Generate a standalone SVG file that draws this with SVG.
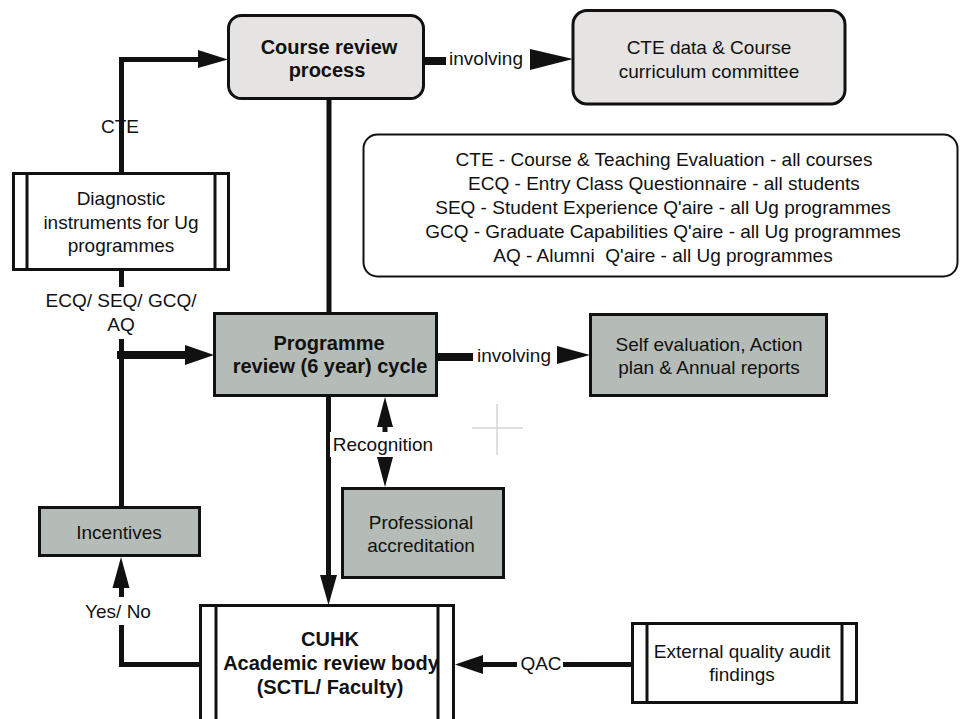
<svg xmlns="http://www.w3.org/2000/svg" width="960" height="719" viewBox="0 0 960 719">
<style>
.box{stroke:#111;stroke-width:3}
.light{fill:#e5e4e2}
.gray{fill:#b5bbb6}
.white{fill:#fff}
.t{font-family:"Liberation Sans",Arial,sans-serif;font-size:19px;fill:#111;text-anchor:middle}
.b{font-weight:bold;font-size:20px}
.ln{stroke:#111;fill:none;stroke-width:5}
.thick{stroke-width:8}
.ah{fill:#111}
.bar{stroke:#111;stroke-width:3}
</style>
<rect width="960" height="719" fill="#fff"/>

<g id="connectors">
  <!-- Diagnostic -> Course review (CTE) -->
  <path class="ln" d="M121.5,173 V113 M121.5,140 V59.5 H200"/>
  <polygon class="ah" points="198,50 228,59.5 198,68"/>
  <text class="t" x="120" y="133">CTE</text>
  <!-- Course review -> CTE data (involving) -->
  <line class="ln thick" x1="424" y1="61" x2="446" y2="61"/>
  <text class="t" x="486" y="65">involving</text>
  <polygon class="ah" points="530,49 573,59 530,70"/>
  <!-- Course review -> Programme -->
  <line class="ln" x1="329" y1="99" x2="329" y2="313"/>
  <!-- Diagnostic -> Programme (ECQ/SEQ/GCQ/AQ) -->
  <line class="ln" x1="121.5" y1="270" x2="121.5" y2="287"/>
  <text class="t" x="121" y="307">ECQ/ SEQ/ GCQ/</text>
  <text class="t" x="121" y="331">AQ</text>
  <line class="ln" x1="121.5" y1="339" x2="121.5" y2="507"/>
  <line class="ln thick" x1="117" y1="355" x2="188" y2="355"/>
  <polygon class="ah" points="185,345 214,355 185,365"/>
  <!-- Programme -> Self evaluation (involving) -->
  <line class="ln thick" x1="437" y1="357" x2="473" y2="357"/>
  <text class="t" x="514" y="362">involving</text>
  <polygon class="ah" points="557,346 590,355 557,364"/>
  <!-- Programme -> CUHK -->
  <line class="ln" x1="328.5" y1="396" x2="328.5" y2="580"/>
  <polygon class="ah" points="320,575 337,575 328.5,605"/>
  <!-- Recognition double arrow -->
  <line class="ln" stroke-width="4" x1="385" y1="420" x2="385" y2="465"/>
  <polygon class="ah" points="385,397 393,427 377,427"/>
  <polygon class="ah" points="377,457 393,457 385,487"/>
  <rect x="330" y="432" width="105" height="25" fill="#fff"/>
  <text class="t" x="383" y="451">Recognition</text>
  <!-- CUHK -> Incentives (Yes/ No) -->
  <path class="ln" d="M200,664.5 H121.5 V625 M121.5,597 V586"/>
  <polygon class="ah" points="121,557 129.5,588 112.5,588"/>
  <text class="t" x="118" y="618">Yes/ No</text>
  <!-- External -> CUHK (QAC) -->
  <path class="ln" stroke-width="6" d="M632,664.5 H563 M517,664.5 H480"/>
  <polygon class="ah" points="455,664.5 483,655 483,674"/>
  <text class="t" x="541" y="670">QAC</text>
</g>

<g id="course-review">
  <rect class="box light" x="228.5" y="15.5" width="195" height="83" rx="13"/>
  <text class="t b" x="329" y="54">Course review</text>
  <text class="t b" x="327" y="77">process</text>
</g>

<g id="cte-data">
  <rect class="box light" x="573" y="10.5" width="272" height="93.5" rx="14"/>
  <text class="t" x="709" y="54">CTE data &amp; Course</text>
  <text class="t" x="709" y="78">curriculum committee</text>
</g>

<g id="legend">
  <rect x="363.5" y="134.5" width="594" height="142" rx="14" fill="#fff" stroke="#111" stroke-width="2"/>
  <text class="t" x="664" y="166">CTE - Course &amp; Teaching Evaluation - all courses</text>
  <text class="t" x="664" y="190">ECQ - Entry Class Questionnaire - all students</text>
  <text class="t" x="663" y="214">SEQ - Student Experience Q'aire - all Ug programmes</text>
  <text class="t" x="663" y="238">GCQ - Graduate Capabilities Q'aire - all Ug programmes</text>
  <text class="t" x="663" y="262" xml:space="preserve">AQ - Alumni  Q'aire - all Ug programmes</text>
</g>

<g id="diagnostic">
  <rect class="box white" x="13.5" y="173.5" width="215" height="96"/>
  <line class="bar" x1="27" y1="173.5" x2="27" y2="269.5"/>
  <line class="bar" x1="215" y1="173.5" x2="215" y2="269.5"/>
  <text class="t" x="121" y="205">Diagnostic</text>
  <text class="t" x="121" y="229">instruments for Ug</text>
  <text class="t" x="121" y="252">programmes</text>
</g>

<g id="programme">
  <rect class="box gray" x="214.5" y="313.5" width="222" height="82"/>
  <text class="t b" x="329" y="350">Programme</text>
  <text class="t b" x="330" y="373">review (6 year) cycle</text>
</g>

<g id="self-evaluation">
  <rect class="box gray" x="590.5" y="314.5" width="236" height="81"/>
  <text class="t" x="709" y="351">Self evaluation, Action</text>
  <text class="t" x="709" y="374">plan &amp; Annual reports</text>
</g>

<g id="professional">
  <rect class="box gray" x="342.5" y="488.5" width="161" height="89"/>
  <text class="t" x="421" y="529">Professional</text>
  <text class="t" x="421" y="552">accreditation</text>
</g>

<g id="incentives">
  <rect class="box gray" x="39.5" y="507.5" width="160" height="48"/>
  <text class="t" x="119" y="539">Incentives</text>
</g>

<g id="cuhk">
  <rect class="box white" x="200.5" y="605.5" width="253" height="140"/>
  <line class="bar" x1="216" y1="605.5" x2="216" y2="719"/>
  <line class="bar" x1="438" y1="605.5" x2="438" y2="719"/>
  <text class="t b" x="330" y="646">CUHK</text>
  <text class="t b" x="331" y="670">Academic review body</text>
  <text class="t b" x="330" y="694">(SCTL/ Faculty)</text>
</g>

<g id="external">
  <rect class="box white" x="632.5" y="623.5" width="224" height="79"/>
  <line class="bar" x1="647" y1="623.5" x2="647" y2="702.5"/>
  <line class="bar" x1="842" y1="623.5" x2="842" y2="702.5"/>
  <text class="t" x="742" y="658">External quality audit</text>
  <text class="t" x="742" y="681">findings</text>
</g>

<g id="crosshair" stroke="#d4d4d4" stroke-width="1.5">
  <line x1="472" y1="428" x2="523" y2="428"/>
  <line x1="497" y1="404" x2="497" y2="455"/>
</g>
</svg>
